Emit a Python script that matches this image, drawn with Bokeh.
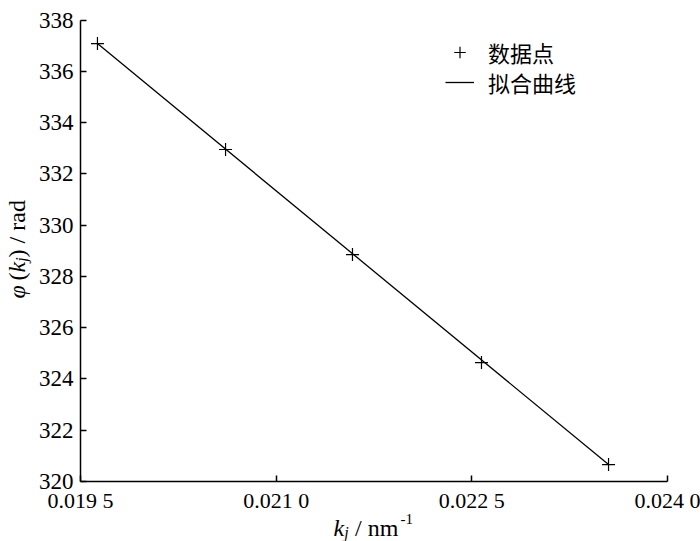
import math
from bokeh.plotting import figure
from bokeh.models import Range1d, FixedTicker, Label, Legend, LegendItem
from bokeh.embed import file_html
from bokeh.resources import INLINE

# ---- data ----
k_data = [0.019630, 0.020612, 0.021585, 0.022574, 0.023548]
phi_data = [337.08, 332.95, 328.85, 324.64, 320.66]
fit_k = [0.019630, 0.023548]
fit_phi = [337.08, 320.66]
x_ticks = [0.0195, 0.0210, 0.0225, 0.0240]
x_tick_labels = ["0.019 5", "0.021 0", "0.022 5", "0.024 0"]
y_ticks = [320, 322, 324, 326, 328, 330, 332, 334, 336, 338]
legend_labels = ["数据点", "拟合曲线"]

SERIF = "Liberation Serif"

# ---- layout (pixels) ----
W, H = 700, 541
PX_L, PX_R, PX_T, PX_B = 80, 667, 19.5, 481
X0, X1 = x_ticks[0], x_ticks[-1]
Y0, Y1 = y_ticks[0], y_ticks[-1]
sx = (PX_R - PX_L) / (X1 - X0)
sy = (PX_B - PX_T) / (Y1 - Y0)
x_range = Range1d(X0 - PX_L / sx, X1 + (W - PX_R) / sx)
y_range = Range1d(Y0 - (H - PX_B) / sy, Y1 + PX_T / sy)

p = figure(width=W, height=H, output_backend="svg", toolbar_location=None,
           x_range=x_range, y_range=y_range,
           min_border_left=0, min_border_right=0, min_border_top=0,
           min_border_bottom=0)
p.outline_line_color = None
p.grid.visible = False
p.background_fill_color = "white"
p.border_fill_color = "white"

for axs in (p.xaxis, p.yaxis):
    axs.axis_line_color = "black"
    axs.axis_line_width = 1.5
    axs.major_tick_line_color = "black"
    axs.major_tick_line_width = 1.5
    axs.major_tick_in = 6
    axs.major_tick_out = 0
    axs.minor_tick_in = 0
    axs.minor_tick_out = 0
    axs.major_label_text_font = SERIF
    axs.major_label_text_font_style = "normal"
    axs.major_label_text_color = "black"

p.xaxis.ticker = FixedTicker(ticks=x_ticks)
p.xaxis.major_label_overrides = dict(zip(x_ticks, x_tick_labels))
p.xaxis.major_label_text_font_size = "22px"
p.xaxis.major_label_standoff = 6
p.xaxis.fixed_location = Y0
p.xaxis.bounds = (X0, X1)
p.yaxis.ticker = FixedTicker(ticks=y_ticks)
p.yaxis.major_label_text_font_size = "23px"
p.yaxis.major_label_standoff = 7
p.yaxis.fixed_location = X0
p.yaxis.bounds = (Y0, Y1)

ln = p.line(fit_k, fit_phi, line_color="black", line_width=1.3)
sc = p.scatter(k_data, phi_data, marker="cross", size=13,
               line_color="black", line_width=1.2)


def make_legend(label, rend, loc):
    return Legend(items=[LegendItem(label=label, renderers=[rend])],
                  location=loc, padding=0, margin=0, spacing=0,
                  glyph_width=29, glyph_height=30, label_height=28,
                  label_standoff=14, border_line_color=None,
                  background_fill_alpha=0,
                  label_text_font="Noto Sans CJK SC",
                  label_text_font_size="22px", label_text_color="black")


p.add_layout(make_legend(legend_labels[0], sc, (445, 473)))
p.add_layout(make_legend(legend_labels[1], ln, (445, 443)))


def lab(x, y, text, size=24, italic=False, angle=0.0):
    p.add_layout(Label(x=x, y=y, x_units="screen", y_units="screen", text=text,
                       text_font=SERIF, text_font_size=f"{size}px",
                       text_font_style="italic" if italic else "normal",
                       text_baseline="alphabetic", text_align="left",
                       text_color="black", angle=angle))

# x-axis title: k_j / nm^-1
lab(333, 14, "k", italic=True)
lab(343.7, 9, "j", size=16, italic=True)
lab(354.5, 14, "/ nm")
lab(400, 23, "-1", size=15)

# y-axis title: φ (k_j) / rad  (rotated)
A = math.pi / 2
bx = 16
lab(bx, 243, "φ", italic=True, angle=A)
lab(bx, 261, "(", angle=A)
lab(bx, 269, "k", italic=True, angle=A)
lab(bx + 5, 279.7, "j", size=16, italic=True, angle=A)
lab(bx, 284.1, ") / rad", angle=A)

open("out.html", "w").write(file_html(p, INLINE))
